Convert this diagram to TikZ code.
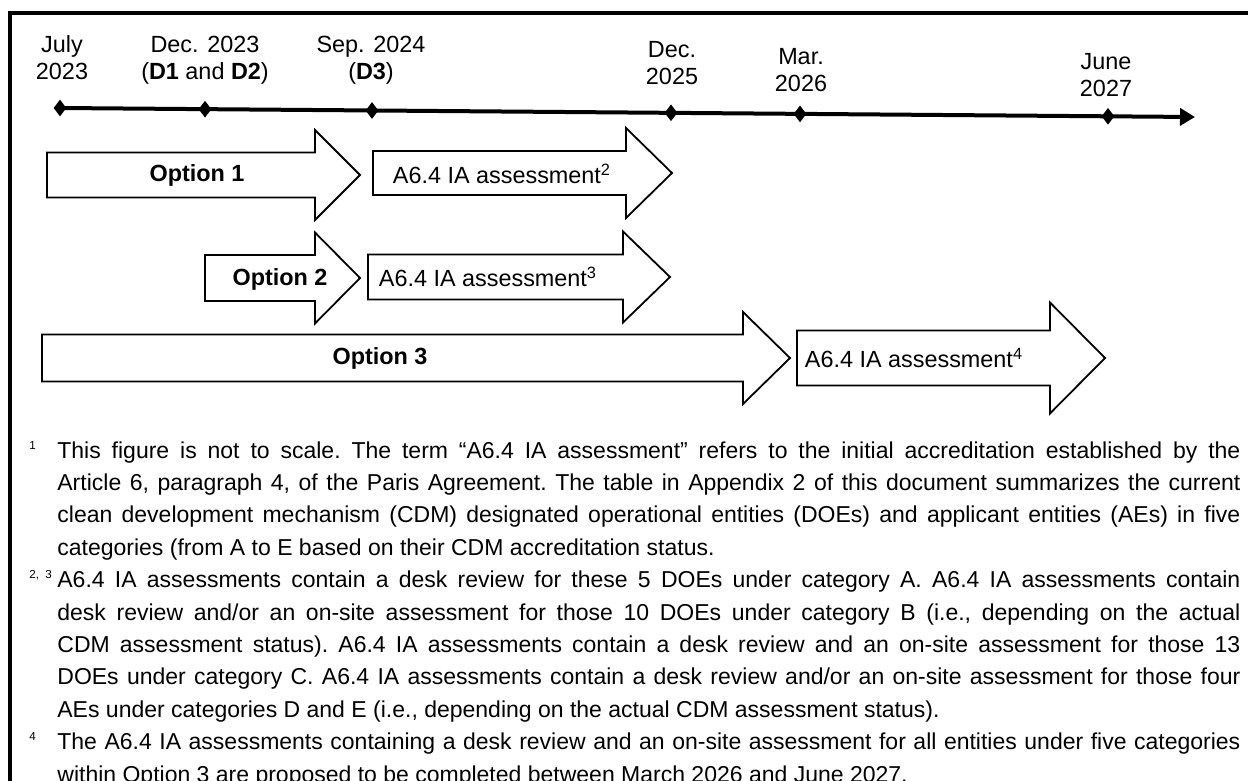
\documentclass[tikz,border=0pt]{standalone}
\usepackage{fontspec}
\setmainfont{Liberation Sans}
\usetikzlibrary{positioning,calc,arrows.meta,shapes.geometric}

% footnote lines: justified, last line, first line with marker
\newlength{\fnwd}
\setlength{\fnwd}{591.5pt}
\newcommand{\fnsetup}{\frenchspacing\spaceskip=0.278em plus 0.4em minus 0.09em\relax}
\newcommand{\fnmark}[1]{\llap{\hbox to 14pt{\raisebox{4.4pt}{\fontsize{5.8}{6}\selectfont #1}\hfil}}}
\newcommand{\fnline}[1]{\hbox to \fnwd{#1}}
\newcommand{\fnlast}[1]{\hbox to \fnwd{#1\hfil}}
\newcommand{\fnfirst}[2]{\hbox to \fnwd{\fnmark{#1}#2}}

\tikzset{
  datelbl/.style={align=center,inner sep=0pt,font=\fontsize{11.7}{13.5}\selectfont},
  tickmark/.style={diamond,fill=black,inner sep=0pt,minimum width=6.5pt,minimum height=8.5pt},
  blkarrow/.style={draw=black,fill=white,line width=0.9pt,line join=miter},
  blklbl/.style={inner sep=0pt,font=\fontsize{11.7}{14}\selectfont},
  optlbl/.style={inner sep=0pt,font=\fontsize{11.7}{14}\selectfont\bfseries},
  fnote/.style={inner sep=0pt,text width=591.5pt,anchor=north west,
    font=\fontsize{11.5}{16.2}\selectfont},
}

% block arrow: x start, head base, tip, y centre, half body, half head
\newcommand{\blockarrow}[6]{%
  \draw[blkarrow] (#1,#4-#5) -- (#2,#4-#5) -- (#2,#4-#6) -- (#3,#4)
    -- (#2,#4+#6) -- (#2,#4+#5) -- (#1,#4+#5) -- cycle;}

\begin{document}
\begin{tikzpicture}[x=0.5pt,y=-0.5pt]
  \useasboundingbox (0,0) rectangle (1248,781);
  % frame (cut off at right and bottom)
  \draw[line width=2pt] (10,781) -- (10,13) -- (1248,13);

  % time line
  \coordinate (tstart) at (60,108);
  \coordinate (tend) at (1195,117);
  \draw[line width=2pt,-{Triangle[length=7.5pt,width=8.5pt]}] (tstart) -- (tend);
  \node[tickmark] (tJul23) at (60,108) {};
  \node[tickmark] (tDec23) at (205,109.2) {};
  \node[tickmark] (tSep24) at (372,110.5) {};
  \node[tickmark] (tDec25) at (671,112.8) {};
  \node[tickmark] (tMar26) at (800,113.9) {};
  \node[tickmark] (tJun27) at (1108,116.3) {};

  \node[datelbl] (lJul23) at (62,58) {July\\2023};
  \node[datelbl] (lDec23) at (205,60) {Dec. 2023\\(\textbf{D1} and \textbf{D2})};
  \node[datelbl] (lSep24) at (371,60) {Sep. 2024\\(\textbf{D3})};
  \node[datelbl] (lDec25) at (672,63) {Dec.\\2025};
  \node[datelbl] (lMar26) at (801,70) {Mar.\\2026};
  \node[datelbl] (lJun27) at (1106,75) {June\\2027};

  % options
  \blockarrow{47}{315}{360}{175}{22.5}{45}
  \node[optlbl] (opt1) at (197,175) {Option 1};
  \blockarrow{373}{626}{672}{173}{22}{45}
  \node[blklbl] (ia2) at (502,174) {A6.4 IA assessment\textsuperscript{2}};

  \blockarrow{205}{315}{360}{278}{23}{45.5}
  \node[optlbl] (opt2) at (280,279) {Option 2};
  \blockarrow{368}{623}{670}{277}{22.5}{45.5}
  \node[blklbl] (ia3) at (488,277) {A6.4 IA assessment\textsuperscript{3}};

  \blockarrow{42}{743}{790}{358}{23.5}{46}
  \node[optlbl] (opt3) at (380,358) {Option 3};
  \blockarrow{797}{1050}{1105}{358}{27.5}{55.5}
  \node[blklbl] (ia4) at (914,358) {A6.4 IA assessment\textsuperscript{4}};

  % footnotes
  \node[fnote] (notes) at (57,441) {\fnsetup
    \fnfirst{1}{This figure is not to scale. The term “A6.4 IA assessment” refers to the initial accreditation established by the}
    \fnline{Article 6, paragraph 4, of the Paris Agreement. The table in Appendix 2 of this document summarizes the current}
    \fnline{clean development mechanism (CDM) designated operational entities (DOEs) and applicant entities (AEs) in five}
    \fnlast{categories (from A to E based on their CDM accreditation status.}
    \fnfirst{2, 3}{A6.4 IA assessments contain a desk review for these 5 DOEs under category A. A6.4 IA assessments contain}
    \fnline{desk review and/or an on-site assessment for those 10 DOEs under category B (i.e., depending on the actual}
    \fnline{CDM assessment status). A6.4 IA assessments contain a desk review and an on-site assessment for those 13}
    \fnline{DOEs under category C. A6.4 IA assessments contain a desk review and/or an on-site assessment for those four}
    \fnlast{AEs under categories D and E (i.e., depending on the actual CDM assessment status).}
    \fnfirst{4}{The A6.4 IA assessments containing a desk review and an on-site assessment for all entities under five categories}
    \fnlast{within Option 3 are proposed to be completed between March 2026 and June 2027.}};
\end{tikzpicture}
\end{document}
